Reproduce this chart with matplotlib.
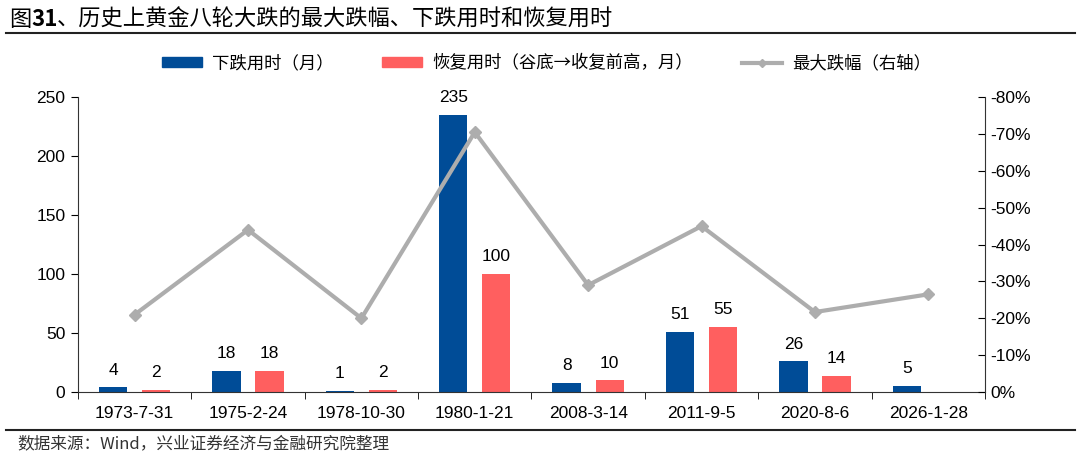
import matplotlib.pyplot as plt
from matplotlib.lines import Line2D
from matplotlib.ticker import FuncFormatter, FixedLocator, NullFormatter
import numpy as np

plt.rcParams['font.family'] = ['Liberation Sans', 'Noto Sans CJK SC', 'DejaVu Sans']

dates = ['1973-7-31', '1975-2-24', '1978-10-30', '1980-1-21',
         '2008-3-14', '2011-9-5', '2020-8-6', '2026-1-28']
fall_months = [4, 18, 1, 235, 8, 51, 26, 5]
recover_months = [2, 18, 2, 100, 10, 55, 14, None]
max_drop = [-0.21, -0.44, -0.20, -0.705, -0.29, -0.45, -0.217, -0.265]

blue = '#004C97'
red = '#FF5F5F'
gray = '#ADADAD'
cjk = ['Noto Sans CJK SC', 'DejaVu Sans']

fig = plt.figure(figsize=(10.8, 4.58), dpi=100)
ax = fig.add_axes([0.0722, 0.144, 0.8398, 0.644])

x = np.arange(len(dates))
w = 0.25
off = 0.19
ax.bar(x - off, fall_months, w, color=blue, zorder=2)
rec_x = [xi + off for xi, v in zip(x, recover_months) if v is not None]
rec_v = [v for v in recover_months if v is not None]
ax.bar(rec_x, rec_v, w, color=red, zorder=2)

for xi, v in zip(x, fall_months):
    ax.annotate(str(v), (xi - off, v), xytext=(0, 7), textcoords='offset points',
                ha='center', va='bottom', fontsize=12.5)
for xi, v in zip(rec_x, rec_v):
    ax.annotate(str(v), (xi, v), xytext=(0, 7), textcoords='offset points',
                ha='center', va='bottom', fontsize=12.5)

ax.set_xlim(-0.5, len(dates) - 0.5)
ax.set_ylim(0, 250)
ax.set_yticks(range(0, 251, 50))
ax.tick_params(axis='y', direction='out', length=5, labelsize=12.5, pad=4)
ax.xaxis.set_major_locator(FixedLocator(x))
ax.set_xticklabels(dates, fontsize=12.5)
ax.tick_params(axis='x', which='major', length=0, pad=10)
ax.xaxis.set_minor_locator(FixedLocator(np.arange(-0.5, len(dates), 1.0)))
ax.xaxis.set_minor_formatter(NullFormatter())
ax.tick_params(axis='x', which='minor', direction='out', length=5)
for s in ['top', 'right']:
    ax.spines[s].set_visible(False)
ax.spines['left'].set_color('#333333')
ax.spines['bottom'].set_color('#333333')

ax2 = ax.twinx()
ax2.plot(x, max_drop, color=gray, lw=3, marker='D', markersize=6, zorder=3)
ax2.set_ylim(0, -0.8)
ax2.set_yticks(np.arange(0, -0.81, -0.1))
ax2.yaxis.set_major_formatter(FuncFormatter(lambda v, p: f"{round(v * 100):d}%" if round(v * 100) != 0 else "0%"))
ax2.tick_params(axis='y', direction='in', length=5, labelsize=12.5, pad=4)
for s in ['top', 'left', 'bottom']:
    ax2.spines[s].set_visible(False)
ax2.spines['right'].set_color('#333333')

handles = [plt.Rectangle((0, 0), 1, 1, color=blue),
           plt.Rectangle((0, 0), 1, 1, color=red),
           Line2D([], [], color=gray, lw=3, marker='D', markersize=4)]
labels = ['下跌用时（月）', '恢复用时（谷底→收复前高，月）', '最大跌幅（右轴）']
fig.legend(handles, labels, loc='center', bbox_to_anchor=(0.506, 0.862), ncol=3,
           frameon=False, prop={'family': cjk, 'size': 12.5},
           handlelength=2.3, handleheight=0.5, columnspacing=2.8, handletextpad=0.6)

# title pieces laid out one after another
renderer = fig.canvas.get_renderer()
tx = 0.008
for part, wt in [('图', 'normal'), ('31', 'bold'),
                 ('、历史上黄金八轮大跌的最大跌幅、下跌用时和恢复用时', 'normal')]:
    t = fig.text(tx, 0.958, part, fontsize=16, family=cjk, weight=wt, va='center', ha='left')
    bb = t.get_window_extent(renderer)
    tx += bb.width / fig.bbox.width

fig.add_artist(Line2D([0.006, 0.995], [0.927, 0.927], color='#222222', lw=1.5))
fig.add_artist(Line2D([0.006, 0.995], [0.061, 0.061], color='#222222', lw=1.5))
fig.text(0.016, 0.031, '数据来源：Wind，兴业证券经济与金融研究院整理', fontsize=12,
         family=cjk, color='#333333', va='center', ha='left')

fig.savefig('out.png', dpi=100)
